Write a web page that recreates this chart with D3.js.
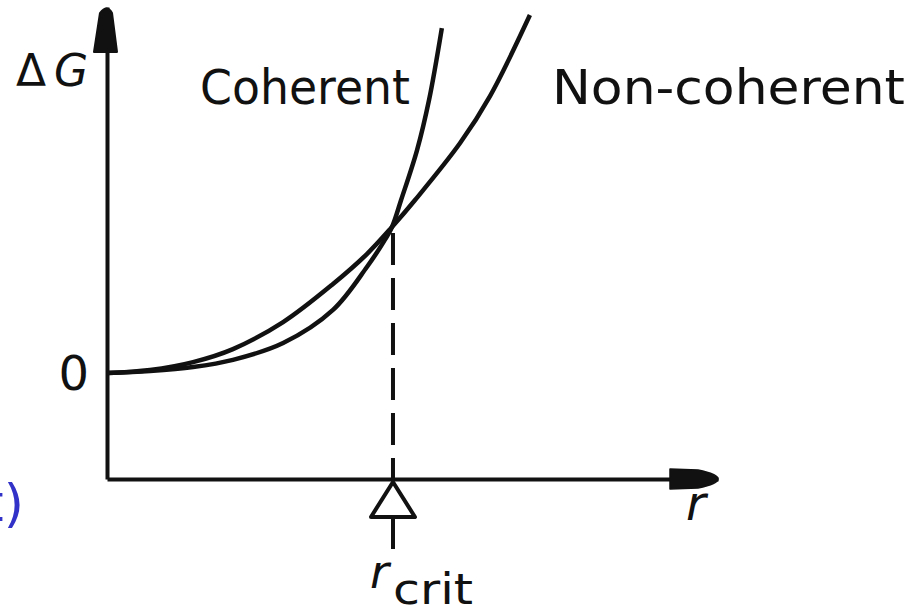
<!DOCTYPE html>
<html>
<head>
<meta charset="utf-8">
<script src="https://cdn.jsdelivr.net/npm/d3@7"></script>
<style>
  body { margin: 0; background: #fff; }
  text { font-family: "DejaVu Sans", sans-serif; fill: #111; }
</style>
</head>
<body>
<script>
// Data (r in units of r_crit, dG in units of dG at r_crit)
var coherentR = [0, 0.151, 0.302, 0.442, 0.618, 0.793, 0.912, 0.968, 1.0, 1.032, 1.088, 1.130, 1.175];
var coherentG = [0, 0.014, 0.041, 0.090, 0.205, 0.432, 0.726, 0.890, 1.0, 1.185, 1.527, 1.870, 2.363];
var nonCoherentR = [0, 0.151, 0.302, 0.442, 0.618, 0.793, 0.912, 1.0, 1.081, 1.239, 1.344, 1.484];
var nonCoherentG = [0, 0.021, 0.075, 0.164, 0.349, 0.610, 0.815, 1.0, 1.185, 1.575, 1.897, 2.452];
var rCrit = 1;
var seriesLabels = ["Coherent", "Non-coherent"];

// Skalaer
var width = 918, height = 613;
var x = d3.scaleLinear().domain([0, 2.144]).range([107, 718]);
var y = d3.scaleLinear().domain([-0.726, 2.507]).range([479, 7]);

var svg = d3.select("body").append("svg").attr("width", width).attr("height", height);

// Akser
svg.append("g")
  .attr("transform", "translate(0," + y(-0.726) + ")")
  .call(d3.axisBottom(x).tickValues([]).tickSizeOuter(0))
  .select(".domain").attr("stroke", "#111").attr("stroke-width", 4);

var yAxis = svg.append("g")
  .attr("transform", "translate(" + x(0) + ",0)")
  .call(d3.axisLeft(y).tickValues([0]).tickFormat(d3.format("d")).tickSize(0).tickPadding(18).tickSizeOuter(0));
yAxis.select(".domain").attr("stroke", "#111").attr("stroke-width", 4);
yAxis.selectAll(".tick text")
  .attr("font-size", 48).attr("font-family", "DejaVu Sans").attr("fill", "#111")
  .attr("dy", "0.35em");

// Pilespidser
var ax = x(0), ay = y(2.507);
svg.append("path")
  .attr("d", "M" + (ax - 7) + "," + (ay + 6) + " Q" + ax + "," + (ay - 3) + " " + (ax + 5) + "," + (ay + 6) +
        " L" + (ax + 10) + "," + (ay + 45) + " L" + (ax - 13) + "," + (ay + 45) + " Z")
  .attr("fill", "#111").attr("stroke", "#111").attr("stroke-width", 2).attr("stroke-linejoin", "round");
var bx = x(2.144), by = y(-0.726);
svg.append("path")
  .attr("d", "M" + (bx - 48) + "," + (by - 10) + " L" + (bx - 20) + "," + (by - 9) +
        " Q" + bx + "," + (by - 5) + " " + bx + "," + by + " Q" + bx + "," + (by + 5) + " " + (bx - 20) + "," + (by + 9) +
        " L" + (bx - 48) + "," + (by + 10) + " Z")
  .attr("fill", "#111").attr("stroke", "#111").attr("stroke-width", 1.5).attr("stroke-linejoin", "round");

// Kurver
var line = d3.line()
  .x(function(d) { return x(d[0]); })
  .y(function(d) { return y(d[1]); })
  .curve(d3.curveCatmullRom.alpha(0.5));

svg.append("path")
  .datum(d3.zip(nonCoherentR, nonCoherentG))
  .attr("d", line).attr("fill", "none").attr("stroke", "#111").attr("stroke-width", 4.5);
svg.append("path")
  .datum(d3.zip(coherentR, coherentG))
  .attr("d", line).attr("fill", "none").attr("stroke", "#111").attr("stroke-width", 4.5);

// Stiplet linje ved r_crit
svg.append("line")
  .attr("x1", x(rCrit) + 1).attr("x2", x(rCrit) + 1)
  .attr("y1", y(1) + 6).attr("y2", y(-0.726))
  .attr("stroke", "#111").attr("stroke-width", 4)
  .attr("stroke-dasharray", "32,13");

// Trekant-markør
var cx = x(rCrit) + 1, cy = y(-0.726);
svg.append("path")
  .attr("d", "M" + cx + "," + (cy + 3) + " L" + (cx + 22) + "," + (cy + 38) + " L" + (cx - 22) + "," + (cy + 38) + " Z")
  .attr("fill", "#fff").attr("stroke", "#111").attr("stroke-width", 4).attr("stroke-linejoin", "round");
svg.append("line")
  .attr("x1", cx).attr("x2", cx).attr("y1", cy + 38).attr("y2", cy + 70)
  .attr("stroke", "#111").attr("stroke-width", 4);

// Tekster
svg.append("text").attr("x", 200).attr("y", 104).attr("font-size", 48)
  .attr("textLength", 210).attr("lengthAdjust", "spacingAndGlyphs").text(seriesLabels[0]);
svg.append("text").attr("x", 552).attr("y", 104).attr("font-size", 48)
  .attr("textLength", 353).attr("lengthAdjust", "spacingAndGlyphs").text(seriesLabels[1]);

var dg = svg.append("text").attr("x", 16).attr("y", 86).attr("font-size", 44);
dg.append("tspan").text("\u0394");
dg.append("tspan").attr("dx", 8).attr("font-style", "italic").text("G");

svg.append("text").attr("x", 686).attr("y", 520).attr("font-size", 48)
  .attr("font-style", "italic").text("r");

svg.append("text").attr("x", 370).attr("y", 588).attr("font-size", 46)
  .attr("font-style", "italic").text("r");
svg.append("text").attr("x", 393).attr("y", 604).attr("font-size", 42)
  .attr("textLength", 80).attr("lengthAdjust", "spacingAndGlyphs").text("crit");

// Afskåret blå tekst i venstre kant
svg.append("text").attr("x", 24).attr("y", 521).attr("text-anchor", "end")
  .attr("font-family", "Liberation Serif").attr("font-size", 52)
  .style("fill", "#3232c8").text("t)");
</script>
</body>
</html>
